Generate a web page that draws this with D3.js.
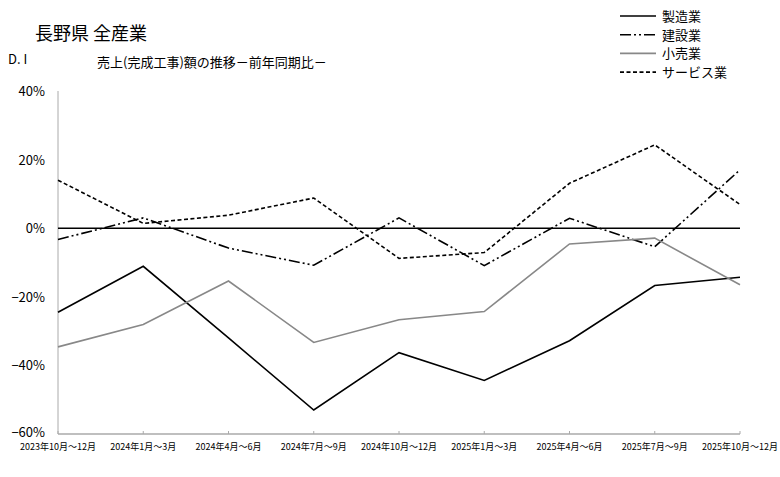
<!DOCTYPE html>
<html><head><meta charset="utf-8">
<script src="https://cdn.jsdelivr.net/npm/d3@7/dist/d3.min.js"></script>
<style>body{margin:0;background:#fff}svg{display:block}text{font-family:"Noto Sans CJK JP","Noto Sans",sans-serif}</style>
</head><body><svg id="c" width="780" height="477"></svg>
<script>
const categories=["2023年10月～12月","2024年1月～3月","2024年4月～6月","2024年7月～9月","2024年10月～12月","2025年1月～3月","2025年4月～6月","2025年7月～9月","2025年10月～12月"];
const seriesNames=["製造業","建設業","小売業","サービス業"];
const manufacturing=[-24.5,-11.1,-32.0,-53.0,-36.3,-44.4,-32.8,-16.7,-14.3];
const construction=[-3.3,3.0,-5.8,-10.8,3.0,-10.9,2.9,-5.4,17.0];
const retail=[-34.6,-28.1,-15.4,-33.3,-26.7,-24.3,-4.6,-2.9,-16.5];
const services=[14.0,1.4,3.8,8.8,-8.8,-7.1,13.1,24.3,6.9];
const yTicks=[40,20,0,-20,-40,-60];

const svg=d3.select("#c");
const x=d3.scalePoint().domain(categories).range([58,740]);
const y=d3.scaleLinear().domain([-60,40]).range([434,91]);

const styles=[
 {data:manufacturing,color:"#000",dash:null},
 {data:construction,color:"#000",dash:"11,3,2,3,2,3"},
 {data:retail,color:"#888",dash:null},
 {data:services,color:"#000",dash:"4,2.5"}
];

// y axis
svg.append("line").attr("x1",58).attr("x2",58).attr("y1",y(40)).attr("y2",y(-60)).attr("stroke","#aaa").attr("stroke-width",1);
svg.selectAll(".yl").data(yTicks).join("text").attr("x",45).attr("y",d=>d===-60?y(d)+3:y(d)+5)
 .attr("text-anchor","end").attr("font-size",13).text(d=>(d<0?"−":"")+Math.abs(d)+"%");

// x axis
svg.append("line").attr("x1",58).attr("x2",740).attr("y1",434).attr("y2",434).attr("stroke","#aaa").attr("stroke-width",1.5);
svg.selectAll(".xt").data(categories).join("line").attr("x1",d=>x(d)).attr("x2",d=>x(d)).attr("y1",434).attr("y2",431).attr("stroke","#aaa");
svg.selectAll(".xl").data(categories).join("text").attr("x",d=>x(d)).attr("y",450)
 .attr("text-anchor","middle").attr("font-size",9).text(d=>d);

// zero line
svg.append("line").attr("x1",58).attr("x2",740).attr("y1",y(0)).attr("y2",y(0)).attr("stroke","#000").attr("stroke-width",1.5);

const line=d3.line().x((d,i)=>x(categories[i])).y(d=>y(d));
styles.forEach(s=>{
 svg.append("path").attr("d",line(s.data)).attr("fill","none").attr("stroke",s.color)
  .attr("stroke-width",1.6).attr("stroke-dasharray",s.dash);
});

// titles
svg.append("text").attr("x",35).attr("y",40).attr("font-size",18).text("長野県 全産業");
svg.append("text").attr("x",8).attr("y",64).attr("font-size",13).text("D. I");
svg.append("text").attr("x",97).attr("y",67).attr("font-size",13).text("売上(完成工事)額の推移－前年同期比－");

// legend
seriesNames.forEach((n,i)=>{
 const ly=16+i*18.7;
 svg.append("line").attr("x1",620).attr("x2",656).attr("y1",ly).attr("y2",ly)
  .attr("stroke",styles[i].color).attr("stroke-width",1.6).attr("stroke-dasharray",styles[i].dash);
 svg.append("text").attr("x",662).attr("y",ly+5).attr("font-size",13).text(n);
});
</script></body></html>
